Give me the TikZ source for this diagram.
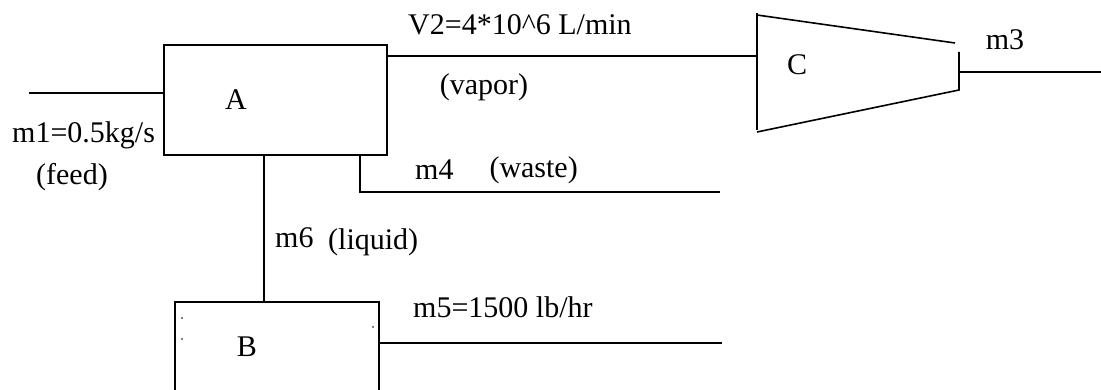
\documentclass[tikz,border=0pt]{standalone}
\usepackage{fontspec}
\setmainfont{Liberation Serif}
\begin{document}
\begin{tikzpicture}[x=1pt,y=-1pt,
  line/.style={line width=1.6pt,black},
  unit/.style={draw,line width=1.6pt,rectangle,inner sep=0pt,anchor=north west},
  lbl/.style={inner sep=0pt,font=\fontsize{30}{34}\selectfont}]
\useasboundingbox (0,0) rectangle (1101,390);
% units
\node[unit,minimum width=223pt,minimum height=110pt] (A) at (163,44) {};
\node[unit,minimum width=204pt,minimum height=100pt] (B) at (174,301) {};
\node[lbl] (Alab) at (236,100) {A};
\node[lbl] (Blab) at (247,347) {B};
\node[lbl] (Clab) at (797,65) {C};
% dots in B
\fill (182,318) circle (0.9pt) (182,339) circle (0.9pt) (373,327) circle (0.9pt);
% compressor C
\coordinate (Ctl) at (757,13);
\coordinate (Cbl) at (757,130);
\coordinate (Cin) at (757,56);
\coordinate (Cout) at (959,72);
\draw[line] (Ctl) -- (Cbl);
\draw[line] (757,15) -- (955,43);
\draw[line] (757,132) -- (959,90) -- (959,52);
% stream coordinates
\coordinate (feedin) at (29,93);
\coordinate (wasteend) at (720,192);
\coordinate (m5end) at (722,343);
\coordinate (m3end) at (1101,72);
% connectors
\draw[line] (feedin) -- (feedin -| A.west);
\draw[line] (A.east |- Cin) -- (Cin);
\draw[line] (A.south -| 360,0) -- (360,192) -- (wasteend);
\draw[line] (A.south -| 264,0) -- (B.north -| 264,0);
\draw[line] (B.east |- m5end) -- (m5end);
\draw[line] (Cout) -- (m3end);
% labels
\node[lbl,anchor=west] (l1) at (12,135) {m1=0.5kg/s};
\node[lbl] (l1b) at (72,177) {(feed)};
\node[lbl,anchor=west] (l2) at (408,25) {V2=4*10\string^6 L/min};
\node[lbl] (l2b) at (484,87) {(vapor)};
\node[lbl] (l3) at (1005,40) {m3};
\node[lbl,anchor=west] (l4) at (415,170) {m4};
\node[lbl,anchor=east] (l4b) at (578,170) {(waste)};
\node[lbl,anchor=west] (l5) at (413,307) {m5=1500 lb/hr};
\node[lbl,anchor=west] (l6) at (275,238) {m6};
\node[lbl,anchor=west] (l6b) at (328,242) {(liquid)};
\end{tikzpicture}
\end{document}
